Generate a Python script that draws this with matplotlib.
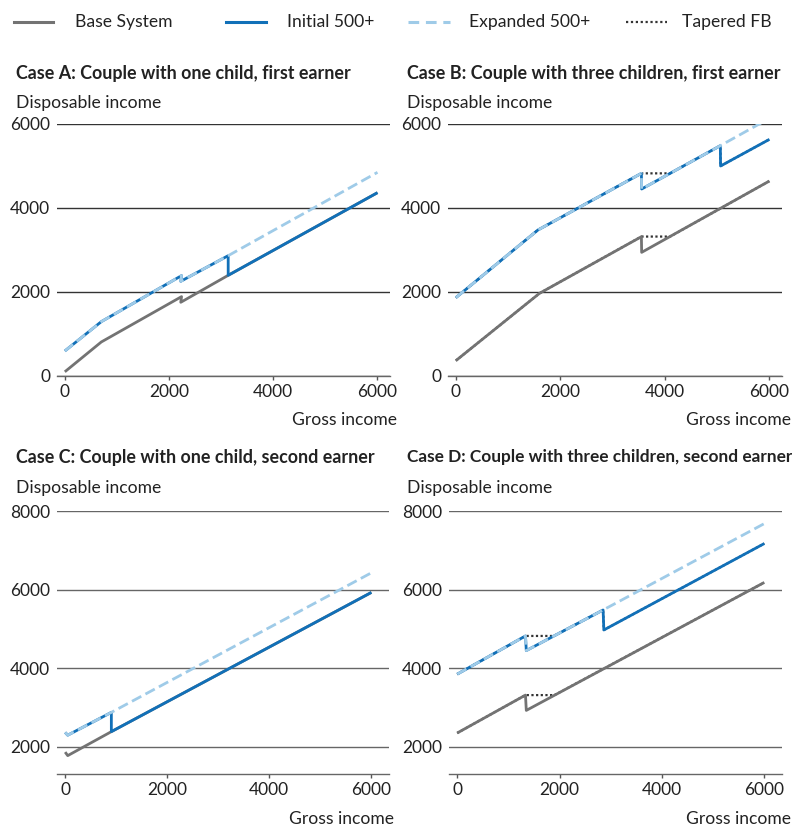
import matplotlib
matplotlib.use("Agg")
import matplotlib.pyplot as plt
from matplotlib.lines import Line2D

plt.rcParams['font.family'] = ['Lato', 'DejaVu Sans']

W, H = 792, 827

# colours
c_base = '#737373'
c_init = '#1170b8'
c_exp = '#9fcbe8'
c_tap = '#333333'

# ---- data (gross income -> disposable income) ----
# Case A
a_base_x = [0, 700, 2240, 2225, 3135, 6000]
a_base_y = [100, 810, 1890, 1755, 2397, 4365]
a_init_x = [0, 700, 2240, 2225, 3135, 3135, 6000]
a_init_y = [595, 1294, 2390, 2255, 2865, 2397, 4365]
a_exp_x = [0, 700, 2240, 2225, 3135, 6000]
a_exp_y = [595, 1294, 2390, 2255, 2865, 4849]

# Case B
b_base_x = [0, 1600, 3550, 3555, 6000]
b_base_y = [365, 1968, 3317, 2944, 4643]
b_tap_base_x = [0, 1600, 3550, 4100, 6000]
b_tap_base_y = [365, 1968, 3320, 3320, 4643]
b_init_x = [0, 1570, 3550, 3555, 5060, 5065, 6000]
b_init_y = [1865, 3476, 4825, 4452, 5484, 5000, 5635]
b_exp_x = [0, 1570, 3550, 3555, 5060, 6000]
b_exp_y = [1865, 3476, 4825, 4452, 5484, 6135]
b_tap_x = [0, 1570, 3550, 4100, 5060, 5065, 6000]
b_tap_y = [1865, 3476, 4825, 4825, 5484, 5000, 5635]

# Case C
c_base_x = [0, 50, 905, 6000]
c_base_y = [1870, 1780, 2390, 5930]
c_init_x = [0, 50, 905, 905, 6000]
c_init_y = [2370, 2300, 2880, 2390, 5930]
c_exp_x = [0, 50, 905, 6000]
c_exp_y = [2370, 2300, 2880, 6429]

# Case D
d_base_x = [0, 1334, 1350, 6000]
d_base_y = [2355, 3319, 2930, 6184]
d_tap_base_x = [0, 1334, 1900, 6000]
d_tap_base_y = [2355, 3319, 3319, 6184]
d_init_x = [0, 1334, 1350, 2850, 2865, 6000]
d_init_y = [3851, 4823, 4451, 5483, 4975, 7173]
d_exp_x = [0, 1334, 1350, 2850, 6000]
d_exp_y = [3851, 4823, 4451, 5483, 7680]
d_tap_x = [0, 1334, 1890, 2850, 2865, 6000]
d_tap_y = [3851, 4823, 4823, 5483, 4975, 7173]

titles = ["Case A: Couple with one child, first earner",
          "Case B: Couple with three children, first earner",
          "Case C: Couple with one child, second earner",
          "Case D: Couple with three children, second earner"]
legend_labels = ["Base System", "Initial 500+", "Expanded 500+", "Tapered FB"]

fig = plt.figure(figsize=(W / 100, H / 100), dpi=100)


def px_axes(left, top, right, bottom):
    return fig.add_axes([left / W, 1 - bottom / H, (right - left) / W, (bottom - top) / H])


def fx(x):
    return x / W


def fy(y):
    return 1 - y / H


def style(ax, xlim, ylim, yticks, gcol):
    ax.set_xlim(*xlim)
    ax.set_ylim(*ylim)
    ax.set_yticks(yticks)
    ax.set_xticks([0, 2000, 4000, 6000])
    for s in ['top', 'right', 'left']:
        ax.spines[s].set_visible(False)
    ax.spines['bottom'].set_color('#666666')
    ax.spines['bottom'].set_linewidth(1.0)
    ax.grid(axis='y', color=gcol, linewidth=1.0)
    ax.set_axisbelow(True)
    ax.tick_params(axis='y', length=0, pad=5, labelsize=12.5, colors='#222222')
    ax.tick_params(axis='x', length=3, width=1, color='#555555', pad=3,
                   labelsize=12.5, labelcolor='#222222')


def draw(ax, base, init, exp, tap=None, tap_base=None):
    lw = 2.0
    if tap_base is not None:
        ax.plot(*tap_base, color=c_tap, lw=1.6, ls=(0, (1, 1.1)), zorder=2)
    if tap is not None:
        ax.plot(*tap, color=c_tap, lw=1.6, ls=(0, (1, 1.1)), zorder=2)
    ax.plot(*base, color=c_base, lw=lw, zorder=3, solid_capstyle='butt')
    ax.plot(*init, color=c_init, lw=lw, zorder=4, solid_capstyle='butt')
    ax.plot(*exp, color=c_exp, lw=lw, ls=(0, (3.8, 1.7)), zorder=5)


# panel geometry in pixels: (left, top, right, bottom)
top_xlim = (-150, 6240)
bot_xlim = (-160, 6345)

axA = px_axes(57, 124, 390, 376)
style(axA, top_xlim, (0, 6000), [0, 2000, 4000, 6000], '#333333')
draw(axA, (a_base_x, a_base_y), (a_init_x, a_init_y), (a_exp_x, a_exp_y))

axB = px_axes(448, 124, 782, 376)
style(axB, top_xlim, (0, 6000), [0, 2000, 4000, 6000], '#333333')
draw(axB, (b_base_x, b_base_y), (b_init_x, b_init_y), (b_exp_x, b_exp_y),
     (b_tap_x, b_tap_y), (b_tap_base_x, b_tap_base_y))

axC = px_axes(57, 511, 389, 774)
style(axC, bot_xlim, (1313, 8000), [2000, 4000, 6000, 8000], '#666666')
draw(axC, (c_base_x, c_base_y), (c_init_x, c_init_y), (c_exp_x, c_exp_y))

axD = px_axes(449, 511, 782, 774)
style(axD, bot_xlim, (1313, 8000), [2000, 4000, 6000, 8000], '#666666')
draw(axD, (d_base_x, d_base_y), (d_init_x, d_init_y), (d_exp_x, d_exp_y),
     (d_tap_x, d_tap_y), (d_tap_base_x, d_tap_base_y))

# titles and axis labels
title_sizes = [12.9, 12.9, 12.9, 12.4]
for (x0, ty, dy, gx, gy), t, ts in zip([(16, 73, 103, 397, 420), (407, 73, 103, 791, 420),
                                        (16, 457, 488, 394, 819), (407, 457, 488, 791, 819)],
                                       titles, title_sizes):
    fig.text(fx(x0), fy(ty), t, fontsize=ts, fontweight='bold', color='#222222', va='center')
    fig.text(fx(x0), fy(dy), "Disposable income", fontsize=12.6, color='#222222', va='center')
    fig.text(fx(gx), fy(gy), "Gross income", fontsize=12.6, color='#222222', va='center', ha='right')

# legend, drawn by hand to sit where the reference puts it
handles = [dict(color=c_base, lw=2.2, ls='-'),
           dict(color=c_init, lw=2.2, ls='-'),
           dict(color=c_exp, lw=2.2, ls=(0, (3.5, 2.2))),
           dict(color=c_tap, lw=1.6, ls=(0, (1, 1.2)))]
line_x = [(14, 53), (226, 266), (408, 450), (626, 667)]
text_x = [75, 287, 469, 682]
for h, (l0, l1), tx, lab in zip(handles, line_x, text_x, legend_labels):
    fig.add_artist(Line2D([fx(l0), fx(l1)], [fy(22), fy(22)], transform=fig.transFigure, **h))
    fig.text(fx(tx), fy(22), lab, fontsize=12.6, color='#222222', va='center')

fig.savefig("out.png", dpi=100)
